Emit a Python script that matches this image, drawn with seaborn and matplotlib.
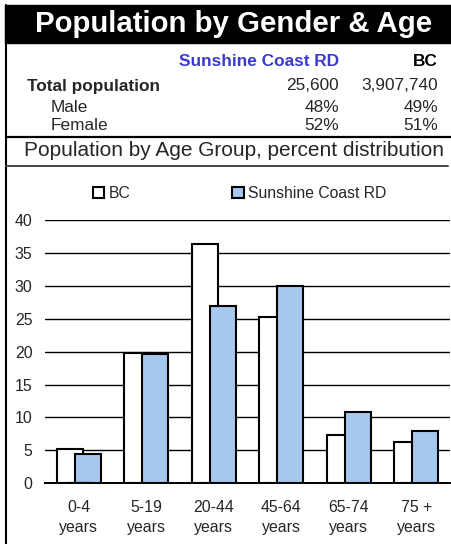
import pandas as pd
import matplotlib.pyplot as plt
import seaborn as sns
from matplotlib.lines import Line2D
from matplotlib.patches import Rectangle

# data
age_groups = ['0-4\nyears', '5-19\nyears', '20-44\nyears', '45-64\nyears', '65-74\nyears', '75 +\nyears']
bc_pct = [5.2, 19.75, 36.3, 25.2, 7.3, 6.3]
sc_pct = [4.5, 19.7, 26.9, 30.0, 10.8, 8.0]
regions = ['BC', 'Sunshine Coast RD']

summary_rows = ['Total population', 'Male', 'Female']
sc_summary = ['25,600', '48%', '52%']
bc_summary = ['3,907,740', '49%', '51%']

df = pd.DataFrame({
    'age': age_groups * 2,
    'pct': bc_pct + sc_pct,
    'region': [regions[0]] * len(age_groups) + [regions[1]] * len(age_groups),
})

sns.set_style('white')
plt.rcParams['font.family'] = ['Liberation Sans', 'DejaVu Sans']

W, H = 452, 544
fig = plt.figure(figsize=(W / 100, H / 100), dpi=100)

def fx(px):
    return px / W

def fy(py):
    return 1 - py / H

# header block
fig.patches.append(Rectangle((fx(5), fy(43)), 1 - fx(5), fy(5) - fy(43),
                             transform=fig.transFigure, color='black', zorder=0))
fig.text(fx(234), fy(24.5), 'Population by Gender & Age', color='white', fontsize=21.2,
         fontweight='bold', ha='center', va='center')
fig.lines.append(Line2D([fx(6), fx(6)], [0, fy(5)], transform=fig.transFigure, color='black', lw=1.5))

# summary table
fs = 12.4
fig.text(fx(339), fy(61), 'Sunshine Coast RD', color='#3a3acc', fontsize=fs, fontweight='bold',
         ha='right', va='center')
fig.text(fx(438), fy(61), 'BC', color='black', fontsize=fs, fontweight='bold', ha='right', va='center')
row_y = [86, 107, 125]
for i, lab in enumerate(summary_rows):
    bold = i == 0
    fig.text(fx(27 if bold else 51), fy(row_y[i]), lab, fontsize=fs,
             fontweight='bold' if bold else 'normal', ha='left', va='center')
    fig.text(fx(339), fy(row_y[i]), sc_summary[i], fontsize=fs, ha='right', va='center')
    fig.text(fx(438), fy(row_y[i]), bc_summary[i], fontsize=fs, ha='right', va='center')

fig.lines.append(Line2D([fx(6), 1], [fy(136.5), fy(136.5)], transform=fig.transFigure, color='black', lw=1.6))
fig.text(fx(234), fy(151), 'Population by Age Group, percent distribution', fontsize=15,
         ha='center', va='center')
fig.lines.append(Line2D([fx(6), fx(448)], [fy(165.5), fy(165.5)], transform=fig.transFigure, color='#444444', lw=1.4))

# chart
ax = fig.add_axes([fx(45), fy(483.3), fx(450) - fx(45), fy(220) - fy(483.3)])
sns.barplot(data=df, x='age', y='pct', hue='region', palette=['white', '#a6c8ec'],
            saturation=1, width=0.533, edgecolor='black', linewidth=1.5, ax=ax, zorder=3,
            legend=True)

# bars overlap slightly: widen each bar around its own center
bar_w = 0.385
for p in ax.patches:
    c = p.get_x() + p.get_width() / 2
    p.set_width(bar_w)
    p.set_x(c - bar_w / 2)

ax.set_ylim(0, 40)
ax.set_xlim(-0.5, 5.5)
ax.set_yticks(range(0, 41, 5))
ax.yaxis.grid(True, color='black', lw=1.0, zorder=0)
ax.set_axisbelow(True)
for s in ['top', 'right', 'left']:
    ax.spines[s].set_visible(False)
ax.spines['bottom'].set_color('black')
ax.spines['bottom'].set_linewidth(1.4)
ax.spines['bottom'].set_zorder(4)
ax.set_xlabel('')
ax.set_ylabel('')
ax.tick_params(axis='y', labelsize=11.4, length=0, pad=9)
ax.tick_params(axis='x', labelsize=11.4, length=0, pad=12)
for t in ax.get_xticklabels():
    t.set_linespacing(1.45)

handles, labels = ax.get_legend_handles_labels()
ax.legend(handles, labels, ncol=2, loc='center', bbox_to_anchor=(0.48, 1.1),
          frameon=False, fontsize=11.3, handlelength=0.75, handleheight=0.75,
          handletextpad=0.25, columnspacing=6.5)

fig.savefig('out.png', dpi=100)
